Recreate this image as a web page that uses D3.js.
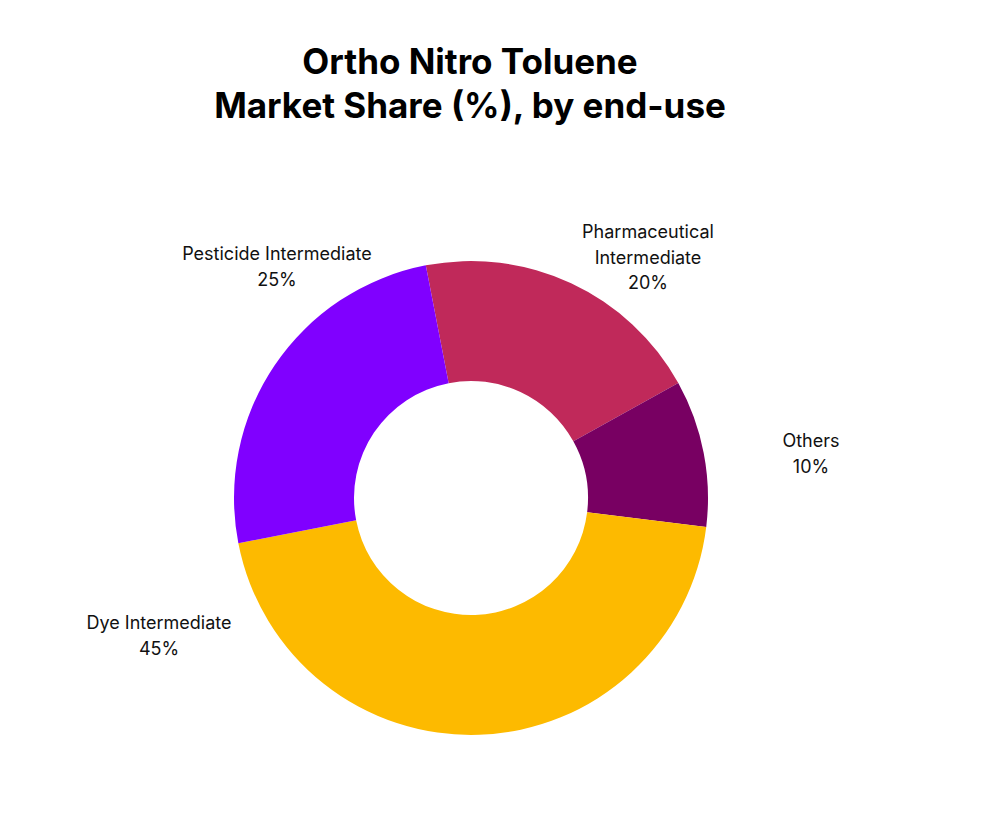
<!DOCTYPE html>
<html>
<head>
<meta charset="utf-8">
<script src="https://cdn.jsdelivr.net/npm/d3@7"></script>
<style>
  body { margin: 0; background: #fff; }
  text { font-family: Inter, "Noto Sans", sans-serif; }
</style>
</head>
<body>
<svg id="chart" width="1002" height="830"></svg>
<script>
var categories = ["Pharmaceutical Intermediate", "Others", "Dye Intermediate", "Pesticide Intermediate"];
var values = [20, 10, 45, 25];
var colors = ["#C0295A", "#780062", "#FDBA00", "#8000FF"];
var labelLines = [["Pharmaceutical", "Intermediate", "20%"], ["Others", "10%"], ["Dye Intermediate", "45%"], ["Pesticide Intermediate", "25%"]];

// label anchor points (layout, not data)
var labelPos = [[648, 232], [811, 441], [159, 623], [277, 254]];

var svg = d3.select("#chart");
var cx = 471, cy = 498, outerR = 237, innerR = 117;

var title = svg.append("text")
  .attr("x", 470).attr("y", 74)
  .attr("text-anchor", "middle")
  .attr("font-size", 35).attr("font-weight", 700).attr("fill", "#000");
title.append("tspan").attr("x", 470).text("Ortho Nitro Toluene");
title.append("tspan").attr("x", 470).attr("dy", 44).text("Market Share (%), by end-use");

var pie = d3.pie().sort(null).startAngle(-11 * Math.PI / 180).endAngle(349 * Math.PI / 180);
var arc = d3.arc().innerRadius(innerR).outerRadius(outerR);

var g = svg.append("g").attr("transform", "translate(" + cx + "," + cy + ")");
g.selectAll("path")
  .data(pie(values))
  .enter().append("path")
  .attr("d", arc)
  .attr("fill", (d, i) => colors[i]);

categories.forEach(function(c, i) {
  var t = svg.append("text")
    .attr("text-anchor", "middle")
    .attr("font-size", 18).attr("fill", "#111")
    .attr("y", labelPos[i][1] + 6);
  labelLines[i].forEach(function(line, j) {
    t.append("tspan").attr("x", labelPos[i][0]).attr("dy", j === 0 ? 0 : 25.5).text(line);
  });
});
</script>
</body>
</html>
